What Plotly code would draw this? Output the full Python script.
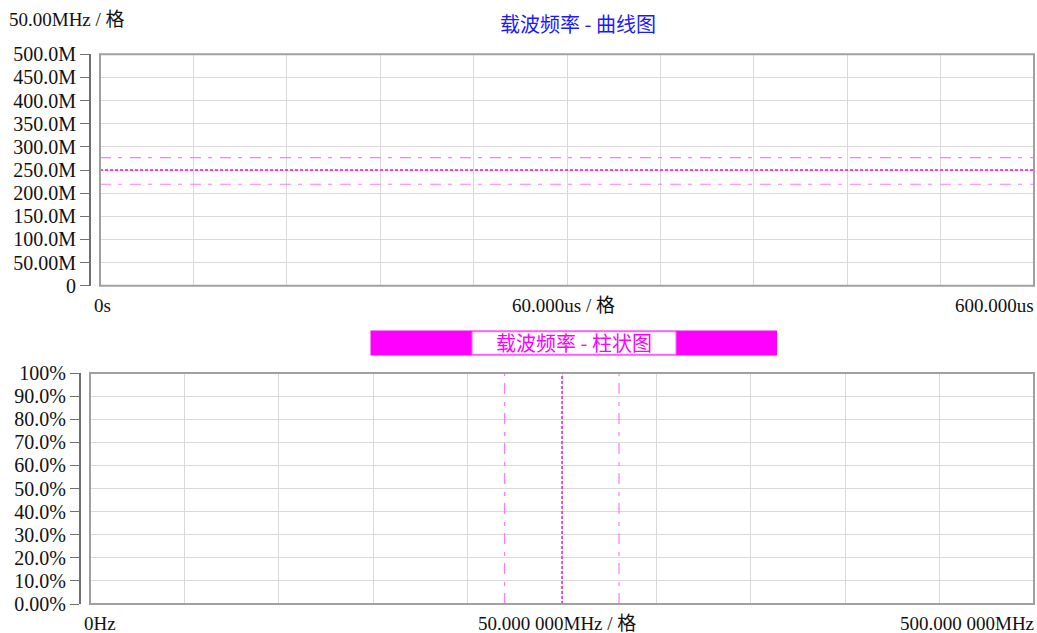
import plotly.graph_objects as go

W, H = 1037, 633

# ---- data ----
time_range_us = [0, 600]
time_ticks_us = [0, 60, 120, 180, 240, 300, 360, 420, 480, 540, 600]
freq_ticks_M = [0, 50, 100, 150, 200, 250, 300, 350, 400, 450, 500]
freq_tick_text = ["0", "50.00M", "100.0M", "150.0M", "200.0M", "250.0M",
                  "300.0M", "350.0M", "400.0M", "450.0M", "500.0M"]
curve_center_M = 250
curve_upper_M = 276.8
curve_lower_M = 219.2

hist_freq_range_M = [0, 500]
hist_freq_ticks_M = [0, 50, 100, 150, 200, 250, 300, 350, 400, 450, 500]
pct_ticks = [0, 10, 20, 30, 40, 50, 60, 70, 80, 90, 100]
pct_tick_text = ["0.00%", "10.0%", "20.0%", "30.0%", "40.0%", "50.0%",
                 "60.0%", "70.0%", "80.0%", "90.0%", "100%"]
hist_center_M = 250
hist_lower_M = 219.6
hist_upper_M = 280.2

SERIF = "Liberation Serif"
CJK = "Noto Sans CJK SC"
MIX = "Liberation Serif, Noto Sans CJK SC"
GRID = "#d9d9d9"
FRAME = "#a0a0a0"
AX = "#707070"
MAG = "#ff00ff"
MAG_LIGHT = "#ff7aff"
DASHDOT = "11px,7px,4px,8px"

fig = go.Figure()

# top curve chart lines
fig.add_trace(go.Scatter(x=time_range_us, y=[curve_upper_M] * 2, mode="lines",
                         line=dict(color=MAG_LIGHT, width=1.2, dash=DASHDOT),
                         xaxis="x", yaxis="y", hoverinfo="skip"))
fig.add_trace(go.Scatter(x=time_range_us, y=[curve_center_M] * 2, mode="lines",
                         line=dict(color=MAG, width=1.3, dash="3px,2px"),
                         xaxis="x", yaxis="y", hoverinfo="skip"))
fig.add_trace(go.Scatter(x=time_range_us, y=[curve_lower_M] * 2, mode="lines",
                         line=dict(color=MAG_LIGHT, width=1.2, dash=DASHDOT),
                         xaxis="x", yaxis="y", hoverinfo="skip"))

# bottom histogram chart lines
fig.add_trace(go.Scatter(x=[hist_lower_M] * 2, y=[0, 100], mode="lines",
                         line=dict(color=MAG_LIGHT, width=1.2, dash=DASHDOT),
                         xaxis="x2", yaxis="y2", hoverinfo="skip"))
fig.add_trace(go.Scatter(x=[hist_center_M] * 2, y=[0, 100], mode="lines",
                         line=dict(color="#e600e6", width=1.3, dash="3px,2px"),
                         xaxis="x2", yaxis="y2", hoverinfo="skip"))
fig.add_trace(go.Scatter(x=[hist_upper_M] * 2, y=[0, 100], mode="lines",
                         line=dict(color=MAG_LIGHT, width=1.2, dash=DASHDOT),
                         xaxis="x2", yaxis="y2", hoverinfo="skip"))

def px_x(p):
    return p / W

def px_y(p):
    return 1 - p / H

fig.update_layout(
    width=W, height=H,
    margin=dict(l=0, r=0, t=0, b=0, pad=0, autoexpand=False),
    paper_bgcolor="white", plot_bgcolor="white",
    showlegend=False,
    xaxis=dict(domain=[px_x(100), px_x(1034)], anchor="y", range=time_range_us,
               tickvals=time_ticks_us, showticklabels=False, ticks="",
               showgrid=True, gridcolor=GRID, gridwidth=1, zeroline=False,
               showline=False, fixedrange=True, automargin=False),
    yaxis=dict(domain=[px_y(285.7), px_y(54.3)], anchor="free", position=px_x(90),
               range=[0, 500], tickvals=freq_ticks_M, ticktext=freq_tick_text,
               ticks="outside", ticklen=9, tickcolor=AX, tickwidth=1,
               showline=True, linecolor=AX, linewidth=2,
               showgrid=True, gridcolor=GRID, gridwidth=1, zeroline=False,
               tickfont=dict(family=SERIF, size=20, color="#111111"),
               fixedrange=True, automargin=False),
    xaxis2=dict(domain=[px_x(90), px_x(1034)], anchor="y2", range=hist_freq_range_M,
                tickvals=hist_freq_ticks_M, showticklabels=False, ticks="",
                showgrid=True, gridcolor=GRID, gridwidth=1, zeroline=False,
                showline=False, fixedrange=True, automargin=False),
    yaxis2=dict(domain=[px_y(604), px_y(373)], anchor="free", position=px_x(80),
                range=[0, 100], tickvals=pct_ticks, ticktext=pct_tick_text,
                ticks="outside", ticklen=9, tickcolor=AX, tickwidth=1,
                showline=True, linecolor=AX, linewidth=2,
                showgrid=True, gridcolor=GRID, gridwidth=1, zeroline=False,
                tickfont=dict(family=SERIF, size=20, color="#111111"),
                fixedrange=True, automargin=False),
)

shapes = [
    dict(type="rect", xref="x domain", yref="y domain", x0=0, x1=1, y0=0, y1=1,
         line=dict(color=FRAME, width=2), layer="above"),
    dict(type="rect", xref="x2 domain", yref="y2 domain", x0=0, x1=1, y0=0, y1=1,
         line=dict(color=FRAME, width=2), layer="above"),
    # histogram title bar
    dict(type="rect", xref="paper", yref="paper",
         x0=px_x(370.5), x1=px_x(777), y0=px_y(355.5), y1=px_y(330.5),
         fillcolor=MAG, line=dict(width=0)),
    dict(type="rect", xref="paper", yref="paper",
         x0=px_x(472), x1=px_x(676), y0=px_y(354.3), y1=px_y(331.7),
         fillcolor="white", line=dict(color="#ff66ff", width=1)),
]
fig.update_layout(shapes=shapes)

def ann(text, x, y, xanchor="center", color="#111111", size=19, family=MIX):
    return dict(text=text, xref="paper", yref="paper", x=px_x(x), y=px_y(y),
                xanchor=xanchor, yanchor="middle", showarrow=False,
                font=dict(family=family, size=size, color=color))

annotations = [
    ann("50.00MHz / 格", 7, 20, xanchor="left"),
    ann("载波频率 - 曲线图", 578, 23, color="#1a1aff", size=20, family=CJK),
    ann("0s", 92, 305, xanchor="left"),
    ann("60.000us / 格", 563, 305),
    ann("600.000us", 1036, 305, xanchor="right"),
    ann("载波频率 - 柱状图", 574, 342, color=MAG, size=20, family=CJK),
    ann("0Hz", 82, 623, xanchor="left"),
    ann("50.000 000MHz / 格", 557, 623),
    ann("500.000 000MHz", 1036, 623, xanchor="right"),
]
fig.update_layout(annotations=annotations)

fig.write_html("out.html")
